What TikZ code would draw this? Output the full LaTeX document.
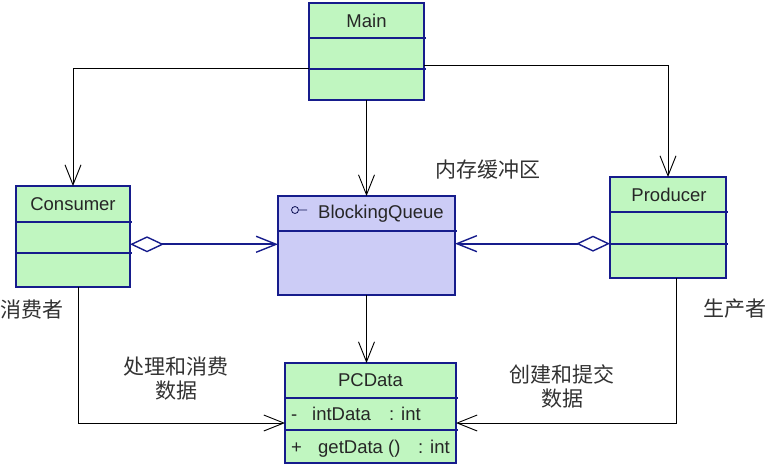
\documentclass[tikz,border=0pt]{standalone}
\usepackage{fontspec}
\setmainfont{Liberation Sans}
\newfontfamily\cjk{Noto Sans CJK SC}
\usetikzlibrary{arrows.meta,calc}
\definecolor{umlgreen}{RGB}{192,246,192}
\definecolor{umlblue}{RGB}{204,204,246}
\definecolor{umlnavy}{RGB}{22,28,140}
\definecolor{labelgray}{RGB}{50,50,50}

\begin{document}
\begin{tikzpicture}[x=1pt,y=-1pt,
  classbox/.style={draw=umlnavy, line width=2pt, fill=umlgreen, inner sep=0pt, outer sep=0pt, anchor=north west},
  ifacebox/.style={classbox, fill=umlblue},
  divider/.style={draw=umlnavy, line width=2pt},
  title/.style={font=\fontsize{18.5}{22}\selectfont, text=black!85},
  member/.style={font=\fontsize{18.5}{22}\selectfont, text=black!85, anchor=base west, inner sep=0pt},
  note/.style={font=\cjk\fontsize{21}{23.5}\selectfont, text=labelgray, align=center},
  dep/.style={draw=black, line width=0.9pt, -{Straight Barb[length=20pt,width=16pt,line width=0.9pt]}},
  agg/.style={draw=umlnavy, line width=2pt,
    {Diamond[open,length=34pt,width=16pt,line width=1.4pt,fill=white]}-{Straight Barb[length=20pt,width=16pt,line width=1.4pt]}}
]
\useasboundingbox (0,0) rectangle (772,475);

% class boxes
\node[classbox, minimum width=115pt, minimum height=97pt] (main) at (309,3) {};
\node[classbox, minimum width=114pt, minimum height=101pt] (consumer) at (16,186) {};
\node[ifacebox, minimum width=177pt, minimum height=99pt] (bq) at (278,196) {};
\node[classbox, minimum width=116pt, minimum height=101pt] (producer) at (610,177) {};
\node[classbox, minimum width=171pt, minimum height=100pt] (pcdata) at (285,363) {};

% compartment lines
\draw[divider] (309,38) -- (426,38);
\draw[divider] (309,69) -- (426,69);
\draw[divider] (16,222) -- (132,222);
\draw[divider] (16,253) -- (132,253);
\draw[divider] (278,231) -- (457,231);
\draw[divider] (610,212) -- (728,212);
\draw[divider] (610,244) -- (728,244);
\draw[divider] (285,398) -- (458,398);
\draw[divider] (285,430) -- (458,430);

% class names
\node[title] (tmain) at (366.5,20.5) {Main};
\node[title] (tcons) at (73,204) {Consumer};
\node[title] (tprod) at (669,194.5) {Producer};
\node[title] (tpc) at (370.5,380.5) {PCData};
\node[title, anchor=west, inner sep=0pt] (tbq) at (318,213.5) {BlockingQueue};
% interface marker
\draw[umlnavy!60!black, line width=0.8pt] (295,210) circle (3.5pt) (298.5,210) -- (307,210);

% PCData members
\node[member] (m1) at (291,420.5) {-};
\node[member] (m2) at (312,420.5) {intData};
\node[member] (m3) at (389,420.5) {: int};
\node[member] (m4) at (291,453) {+};
\node[member] (m5) at (318,453) {getData ()};
\node[member] (m6) at (418,453) {: int};

% dependencies from Main
\draw[dep] ($(main.north west)!0.67!(main.south west)$) -| (consumer.north);
\draw[dep] ($(main.north east)!0.64!(main.south east)$) -| (producer.north);
\draw[dep] (main.south) -- (bq.north);
\draw[dep] (bq.south) -- (bq.south |- pcdata.north);

% aggregations onto the queue
\coordinate (cagg) at ($(consumer.north east)!0.577!(consumer.south east)$);
\coordinate (pagg) at ($(producer.north west)!0.66!(producer.south west)$);
\draw[agg] (cagg) -- (cagg -| bq.west);
\draw[agg] (pagg) -- (pagg -| bq.east);

% data flow into PCData
\coordinate (cdown) at ($(consumer.south west)!0.55!(consumer.south east)$);
\coordinate (pdown) at ($(producer.south west)!0.57!(producer.south east)$);
\coordinate (pcl) at ($(pcdata.north west)!0.6!(pcdata.south west)$);
\coordinate (pcr) at ($(pcdata.north east)!0.6!(pcdata.south east)$);
\draw[dep] (cdown) |- (pcl);
\draw[dep] (pdown) |- (pcr);

% notes
\node[note] (n1) at (488,170) {内存缓冲区};
\node[note] (n2) at (32,310) {消费者};
\node[note] (n3) at (735,309) {生产者};
\node[note] (n4) at (176,378.5) {处理和消费\\数据};
\node[note] (n5) at (562,386.5) {创建和提交\\数据};
\end{tikzpicture}
\end{document}
